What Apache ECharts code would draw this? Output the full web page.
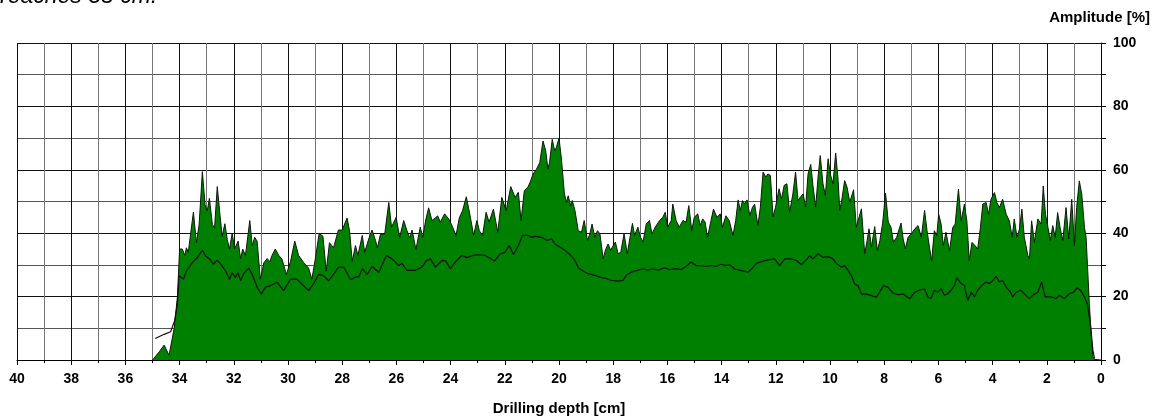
<!DOCTYPE html>
<html>
<head>
<meta charset="utf-8">
<script src="https://cdn.jsdelivr.net/npm/echarts@6/dist/echarts.min.js"></script>
<style>
  html, body { margin: 0; padding: 0; background: #fff; }
  #chart { width: 1159px; height: 417px; }
</style>
</head>
<body>
<div id="chart"></div>
<script>
// amplitude curve [depth cm, amplitude %]
const amplitudeCurve = [
  [35.0, 0], [34.94, 0.3], [34.75, 2.6], [34.57, 4.7], [34.39, 1.5], [34.2, 10], [34.08, 20], [34.0, 35],
  [33.9, 35], [33.81, 33], [33.75, 35.4], [33.68, 34], [33.49, 46.7], [33.38, 37], [33.28, 42.7], [33.16, 59.4],
  [33.06, 49], [32.98, 47], [32.9, 51], [32.79, 42.7], [32.71, 41.7], [32.61, 54.7], [32.51, 45.8], [32.43, 39],
  [32.33, 43], [32.24, 38], [32.16, 35], [32.06, 40], [31.97, 35], [31.84, 37.5], [31.75, 32], [31.67, 35],
  [31.57, 33], [31.41, 44], [31.32, 36], [31.23, 38.7], [31.14, 37.5], [31.02, 25.5], [30.89, 30.7], [30.77, 32],
  [30.67, 31], [30.59, 33], [30.47, 35], [30.34, 33], [30.22, 31.8], [30.06, 27], [29.91, 31], [29.75, 37.5],
  [29.61, 33], [29.42, 30.7], [29.24, 29], [29.12, 25.5], [28.99, 32], [28.85, 40], [28.71, 39], [28.59, 28],
  [28.47, 37], [28.32, 35.4], [28.14, 41], [28.0, 41],
  [27.82, 44.8], [27.73, 40.8], [27.63, 31.2], [27.51, 36.1], [27.42, 33], [27.26, 39.3], [27.17, 34], [27.02, 38.2],
  [26.9, 41], [26.77, 37.7], [26.7, 35.4], [26.59, 39.6], [26.43, 39.8], [26.28, 49.7], [26.18, 41.9], [26.01, 45],
  [25.88, 38.7], [25.73, 44], [25.61, 40.8], [25.51, 38.5], [25.42, 41], [25.28, 34.8], [25.12, 41.9], [25.03, 38.7],
  [24.91, 44.5], [24.81, 48], [24.69, 44], [24.56, 44.8], [24.48, 45.5], [24.38, 43.5], [24.22, 46.1], [24.07, 44.5],
  [23.95, 42.4], [23.8, 39.3], [23.68, 44.8], [23.56, 47.1], [23.42, 51.5], [23.28, 45.5], [23.15, 39.3], [23.03, 44],
  [22.94, 40.8], [22.82, 39.3], [22.69, 46.6], [22.58, 43.5], [22.42, 47.6], [22.26, 40.3], [22.11, 51.3], [21.95, 47.1],
  [21.78, 54.7], [21.62, 51.3], [21.5, 52.9], [21.4, 44], [21.28, 53.4], [21.15, 54.5], [21.07, 56], [20.96, 58.6],
  [20.83, 60.2], [20.71, 62.3], [20.59, 69.1], [20.49, 66], [20.41, 60.2], [20.35, 62.3], [20.25, 69.6], [20.16, 66],
  [20.1, 67], [20.0, 70], [19.91, 63.4],
  [19.8, 52.4], [19.72, 49.7], [19.66, 51.8], [19.57, 48.7], [19.51, 50.3], [19.41, 47.1], [19.29, 40.8], [19.17, 40.3],
  [19.07, 44], [18.95, 37.7], [18.86, 39.8], [18.78, 42.9], [18.68, 38.7], [18.58, 40.8], [18.49, 39.8], [18.37, 31.9],
  [18.29, 34.6], [18.19, 36.6], [18.09, 34.6], [18.0, 36.1], [17.92, 37.2], [17.82, 33.5], [17.72, 34], [17.6, 39.8],
  [17.48, 33.5], [17.39, 38.2], [17.29, 43.1], [17.21, 39.3], [17.09, 41.9], [16.99, 38.7], [16.9, 37.2], [16.78, 42.9],
  [16.66, 44], [16.57, 39.8], [16.45, 41.9], [16.29, 44], [16.17, 45], [16.08, 46.6], [15.99, 41.9], [15.86, 44],
  [15.8, 49.2], [15.68, 44], [15.56, 41.9], [15.43, 44], [15.31, 43.5], [15.21, 48.7], [15.1, 40.8], [15.01, 45],
  [14.88, 46.1], [14.79, 42.4], [14.7, 44.5], [14.61, 43.5], [14.52, 38.7], [14.39, 44], [14.3, 47.6], [14.17, 45],
  [14.05, 46.1], [13.97, 41.9], [13.84, 45.5], [13.72, 44],
  [13.58, 39.3], [13.48, 44], [13.39, 50.5], [13.31, 47.2], [13.23, 50.3], [13.15, 49.3], [13.06, 50.5], [12.96, 45.6],
  [12.86, 48.2], [12.78, 49.1], [12.66, 42.4], [12.57, 48.2], [12.47, 59.3], [12.37, 57.7], [12.29, 58.7], [12.2, 58.2],
  [12.1, 45.1], [12.01, 48.2], [11.88, 54], [11.79, 50.8], [11.69, 55.1], [11.59, 55.6], [11.49, 46.6], [11.37, 52.4],
  [11.27, 59.3], [11.18, 50.3], [11.09, 51.4], [10.99, 52.4], [10.9, 48.2], [10.81, 58.7], [10.71, 61.7], [10.63, 55.1],
  [10.53, 48.2], [10.44, 57.7], [10.36, 64.5], [10.26, 55.6], [10.17, 51.9], [10.07, 63.5], [9.99, 58.7], [9.89, 55.6],
  [9.79, 65.3], [9.7, 56.6], [9.64, 47.2], [9.56, 50.8], [9.46, 56.6], [9.37, 54.5], [9.27, 49.8], [9.13, 53.7],
  [9.03, 41.9], [8.97, 41.4], [8.84, 47.7], [8.72, 33.5], [8.63, 37.7], [8.56, 41.4], [8.47, 35.6], [8.35, 42.1],
  [8.25, 34.5], [8.16, 37.7], [8.06, 43], [7.95, 52.6], [7.85, 43.5], [7.75, 41.9], [7.66, 37.2], [7.54, 38.7],
  [7.38, 43.2], [7.3, 38.2], [7.22, 35.1], [7.12, 38.7], [7.0, 39.8], [6.87, 41.4], [6.75, 42.4], [6.63, 38.7],
  [6.51, 47.2],
  [6.42, 40.8], [6.33, 35.6], [6.25, 31.2], [6.15, 40.8], [6.06, 39.2], [5.99, 46], [5.9, 42.9], [5.82, 36.1],
  [5.72, 40.3], [5.59, 34.5], [5.47, 41.8], [5.38, 42.9], [5.26, 53.9], [5.16, 43.9], [5.04, 49.2], [4.95, 43.9],
  [4.86, 31.4], [4.76, 37.1], [4.65, 36.1], [4.55, 35], [4.45, 41.8], [4.36, 49.2], [4.24, 49.7], [4.15, 46],
  [4.06, 50.7], [3.93, 52.8], [3.84, 49.7], [3.75, 48.1], [3.63, 50.7], [3.5, 46], [3.38, 43.9], [3.28, 38.7],
  [3.2, 44.5], [3.1, 38.7], [3.01, 41.3], [2.92, 47.6], [2.83, 38.7], [2.7, 33], [2.64, 31.9], [2.56, 43.9],
  [2.46, 37.1], [2.33, 44.5], [2.21, 42.9], [2.13, 54.9], [2.05, 46], [1.97, 42.4], [1.87, 37.7], [1.78, 42.4],
  [1.69, 38.7], [1.6, 46.5], [1.5, 41.3], [1.41, 37.7], [1.29, 48.1], [1.19, 38.2], [1.08, 50.7], [0.98, 36.1],
  [0.9, 48.1], [0.8, 56.5], [0.71, 52.3], [0.61, 41.8], [0.55, 38.7], [0.49, 28.2], [0.43, 17.8], [0.37, 9.4],
  [0.3, 1], [0.24, 0.2], [0.0, 0]
]

// mean amplitude line [depth cm, amplitude %]
const meanCurve = [
  [34.9, 6.8], [34.57, 8.1], [34.33, 8.9], [34.18, 12.5], [34.08, 17.7], [34.02, 26.6], [33.96, 27], [33.86, 25.5],
  [33.75, 28], [33.53, 30.7], [33.35, 32.3], [33.16, 34.6], [33.04, 32.8], [32.86, 31.6], [32.76, 30.2], [32.61, 31.5],
  [32.46, 30], [32.3, 28], [32.16, 25.5], [32.06, 27.6], [31.94, 26], [31.85, 27.6], [31.75, 25], [31.63, 27.3],
  [31.45, 29], [31.32, 27], [31.14, 23], [30.99, 20.8], [30.83, 23], [30.65, 23.4], [30.4, 24.5], [30.16, 21.9],
  [29.91, 25.5], [29.67, 25.5], [29.42, 23.4], [29.24, 21.9], [29.06, 24], [28.87, 27], [28.69, 26.6], [28.5, 25],
  [28.32, 27], [28.14, 29.2], [27.94, 29.3], [27.69, 25.3], [27.51, 26.2], [27.39, 26.2], [27.26, 28.8], [27.08, 27],
  [26.9, 29.5], [26.65, 27.7], [26.37, 33], [26.16, 31.9], [25.91, 29.8], [25.79, 30.4], [25.61, 28.3], [25.3, 28.3],
  [25.06, 29.3], [24.91, 31.2], [24.75, 31.9], [24.56, 29.3], [24.32, 31.4], [24.17, 31.2], [24.01, 28.8], [23.83, 30.9],
  [23.58, 33], [23.4, 32.3], [23.09, 33.2], [22.72, 33], [22.38, 31.2], [22.17, 33.5], [21.99, 34], [21.84, 36.1],
  [21.68, 33.3], [21.5, 36.1], [21.35, 39.3], [21.13, 39.3], [21.01, 38.7], [20.88, 39], [20.64, 38.7], [20.45, 37.7],
  [20.27, 38.2], [20.15, 36.6], [19.96, 35.6], [19.78, 34.6], [19.6, 33.3], [19.41, 31.4], [19.29, 29.1], [19.11, 28.1],
  [18.92, 27.2], [18.68, 26.7], [18.43, 26], [18.25, 25.7], [18.07, 25.1], [17.82, 24.9], [17.64, 25.1], [17.52, 26.7],
  [17.33, 27.7], [17.09, 28.3], [16.9, 28.8], [16.72, 28.3], [16.54, 28.8], [16.35, 28.3], [16.11, 29.1], [15.92, 28.5],
  [15.68, 28.8], [15.5, 28.5], [15.31, 29.5], [15.13, 30.9], [14.94, 29.8], [14.76, 29.8], [14.58, 29.5], [14.39, 29.8],
  [14.21, 29.5], [14.03, 30.2], [13.84, 29.8], [13.7, 30.1], [13.52, 28.7], [13.27, 28.2], [13.02, 27.7], [12.9, 28.7],
  [12.72, 30.5], [12.47, 31.2], [12.29, 31.6], [12.04, 31.9], [11.86, 29.8], [11.67, 31.9], [11.43, 31.9], [11.24, 31.4],
  [11.06, 30.1], [10.87, 31.6], [10.75, 32.9], [10.63, 31.9], [10.44, 33.5], [10.26, 32.4], [10.07, 32.6], [9.89, 31.9],
  [9.77, 30.5], [9.58, 29.3], [9.46, 29.8], [9.33, 28.2], [9.21, 26.6], [9.09, 24], [8.97, 23.5], [8.84, 20.8],
  [8.66, 20.8], [8.47, 20.3], [8.29, 19.8], [8.17, 21.4], [8.02, 23.5], [7.86, 22.9], [7.67, 21.1], [7.49, 20.6],
  [7.3, 20.8], [7.06, 19.3], [6.87, 21.4], [6.69, 22.1], [6.51, 22.4], [6.39, 19.9], [6.27, 19.4], [6.15, 22],
  [6.02, 21.4], [5.9, 22.5], [5.78, 20.4], [5.66, 20.9], [5.53, 22], [5.41, 23.5], [5.32, 25.9], [5.16, 24.1],
  [5.04, 23.5], [4.92, 18.8], [4.79, 21.4], [4.67, 19.9], [4.55, 22], [4.4, 23.5], [4.24, 24.6], [4.12, 24.1],
  [3.99, 25.1], [3.87, 26.4], [3.75, 24.6], [3.63, 25.1], [3.5, 23], [3.34, 21.4], [3.26, 19.9], [3.13, 21.4],
  [2.95, 22], [2.77, 20.4], [2.64, 19.4], [2.52, 20.4], [2.33, 21.4], [2.19, 24.6], [2.06, 19.9], [1.84, 19.9],
  [1.66, 19.4], [1.53, 20.4], [1.35, 19.4], [1.17, 20.9], [1.01, 21.4], [0.88, 22.8], [0.74, 21.8], [0.61, 19.9],
  [0.51, 17.8], [0.43, 13.6], [0.37, 9.4], [0.3, 3.1], [0.24, 0.5]
]

const xName = 'Drilling depth [cm]'
const yName = 'Amplitude [%]'
const caption = 'reaches 35 cm.'

const myChart = echarts.init(document.getElementById('chart'))
const font = '"Liberation Sans", Arial, sans-serif'

const option = {
  backgroundColor: '#fff',
  animation: false,
  grid: { left: 17, right: 58, top: 43, bottom: 57, outerBoundsMode: 'none' },
  graphic: [
    {
      type: 'text', left: 0, top: -15,
      style: { text: caption, font: 'italic 23px ' + font, fill: '#000' }
    },
    {
      type: 'text', right: 9, top: 10,
      style: { text: yName, font: 'bold 15px ' + font, fill: '#000' }
    }
  ],
  xAxis: {
    type: 'value',
    min: 0, max: 40, interval: 2,
    inverse: true,
    name: xName,
    nameLocation: 'middle',
    nameGap: 41,
    nameTextStyle: { fontFamily: font, fontWeight: 'bold', fontSize: 15, color: '#000' },
    axisLine: { show: true, onZero: false, lineStyle: { color: '#000', width: 1 } },
    axisTick: { show: true, length: 5, lineStyle: { color: '#000' } },
    minorTick: { show: true, splitNumber: 2, length: 3, lineStyle: { color: '#000' } },
    axisLabel: { margin: 12, fontFamily: font, fontWeight: 'bold', fontSize: 14, color: '#000' },
    splitLine: { show: true, lineStyle: { color: '#111', width: 1 } },
    minorSplitLine: { show: true, lineStyle: { color: '#777', width: 1 } }
  },
  yAxis: {
    type: 'value',
    position: 'right',
    min: 0, max: 100, interval: 20,
    axisLine: { show: true, lineStyle: { color: '#000', width: 1 } },
    axisTick: { show: true, length: 5, lineStyle: { color: '#000' } },
    minorTick: { show: true, splitNumber: 2, length: 5, lineStyle: { color: '#000' } },
    axisLabel: { margin: 12, fontFamily: font, fontWeight: 'bold', fontSize: 14, color: '#000' },
    splitLine: { show: true, lineStyle: { color: '#111', width: 1 } },
    minorSplitLine: { show: true, lineStyle: { color: '#555', width: 1 } }
  },
  series: [
    {
      type: 'line',
      data: amplitudeCurve,
      showSymbol: false,
      lineStyle: { color: '#0a1a0a', width: 1 },
      areaStyle: { color: '#008000', opacity: 1 },
      z: 2
    },
    {
      type: 'line',
      data: meanCurve,
      showSymbol: false,
      lineStyle: { color: '#111', width: 1.2 },
      z: 3
    }
  ]
}

myChart.setOption(option)

window.addEventListener('resize', () => {
  myChart.resize()
})
</script>
</body>
</html>
